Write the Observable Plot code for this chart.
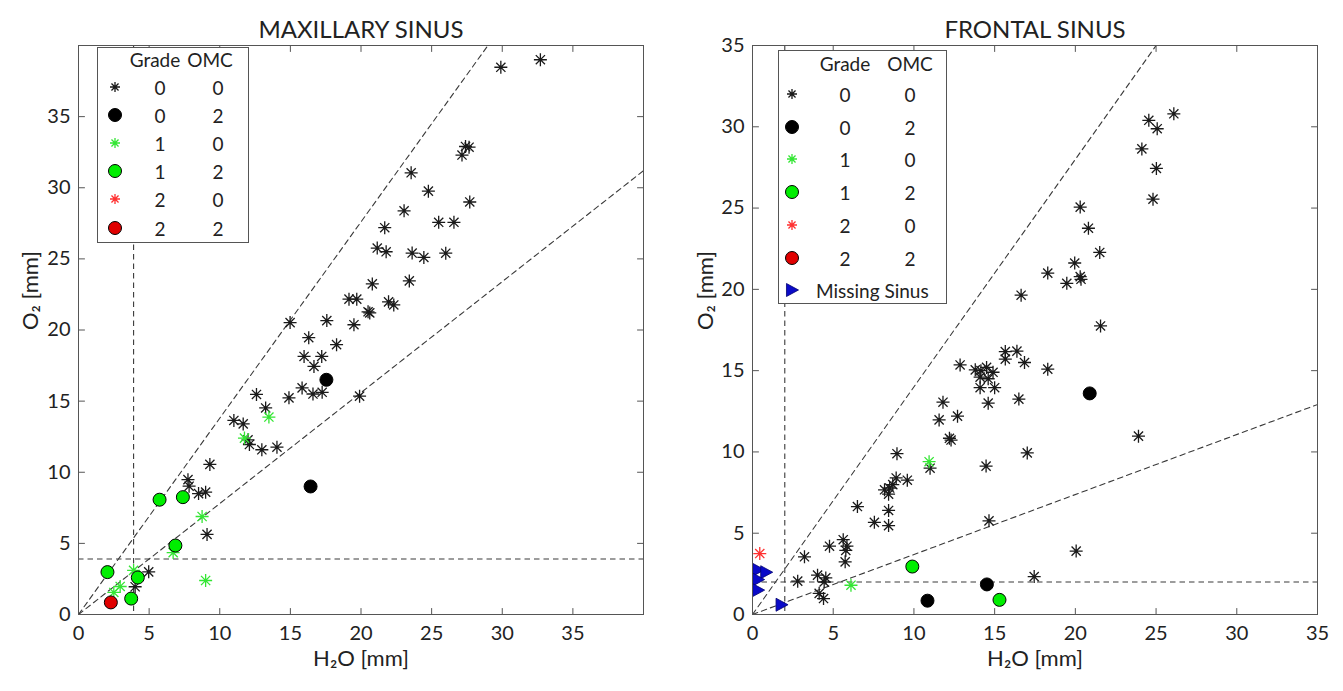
<!DOCTYPE html>
<html><head><meta charset="utf-8">
<script src="https://cdn.jsdelivr.net/npm/d3@7"></script>
<script src="https://cdn.jsdelivr.net/npm/@observablehq/plot@0.6"></script>
<style>
body{margin:0;background:#fff;}
#wrap{display:flex;width:1343px;height:691px;overflow:hidden;}
.panel{position:relative;height:691px;}
.panel svg.lg{position:absolute;}
</style></head><body><div id="wrap"></div>
<script>
// ---------- DATA ----------
const titles = ["MAXILLARY SINUS", "FRONTAL SINUS"];
const xLabel = "H₂O [mm]";
const yLabel = "O₂ [mm]";
const maxTicks = [0, 5, 10, 15, 20, 25, 30, 35];
const froTicks = [0, 5, 10, 15, 20, 25, 30, 35];
const legendHeader = ["Grade", "OMC"];
const legendRows = [["0", "0"], ["0", "2"], ["1", "0"], ["1", "2"], ["2", "0"], ["2", "2"]];
const missingLabel = "Missing Sinus";

// threshold / reference lines  [horizontal, vertical, upper slope, lower slope]
const maxRef = [3.9, 3.9, 1.38, 0.78];
const froRef = [2.0, 2.0, 1.40, 0.369];

// Maxillary sinus
const maxG0O0 = [[29.9,38.47],[32.7,39.0],[27.4,32.9],[27.65,32.85],[27.15,32.3],[27.7,29.0],[23.55,31.05],[24.77,29.76],[23.05,28.38],[25.5,27.57],[26.58,27.57],[21.68,27.19],[21.15,25.76],[21.78,25.5],[23.62,25.41],[24.45,25.1],[26.0,25.4],[23.42,23.45],[20.8,23.24],[19.15,22.17],[19.7,22.17],[21.95,21.98],[22.32,21.76],[20.5,21.28],[20.62,21.2],[14.98,20.52],[17.58,20.66],[19.5,20.37],[16.3,19.46],[18.27,18.97],[15.97,18.14],[17.22,18.14],[16.67,17.44],[15.83,15.93],[16.6,15.5],[17.25,15.62],[14.9,15.23],[19.9,15.35],[12.6,15.47],[13.25,14.52],[11.0,13.64],[11.66,13.4],[12.0,12.28],[12.1,11.95],[12.98,11.58],[14.05,11.76],[9.3,10.55],[7.75,9.48],[7.83,9.02],[8.5,8.5],[9.0,8.6],[9.1,5.63],[4.97,3.0],[4.01,1.95]];
const maxG0O2 = [[16.43,9.0],[17.55,16.5]];
const maxG1O0 = [[2.5,1.55],[2.95,1.97],[3.9,3.1],[6.7,4.35],[8.75,6.89],[9.0,2.39],[11.75,12.4],[13.48,13.88]];
const maxG1O2 = [[2.05,2.98],[4.2,2.6],[3.73,1.12],[6.86,4.85],[5.74,8.07],[7.39,8.25]];
const maxG2O0 = [];
const maxG2O2 = [[2.29,0.85]];

// Frontal sinus
const froG0O0 = [[26.1,30.8],[24.55,30.4],[25.07,29.88],[24.12,28.64],[25.02,27.44],[24.81,25.55],[20.3,25.06],[20.81,23.76],[21.51,22.27],[18.29,21.0],[19.96,21.62],[19.47,20.37],[20.3,20.78],[20.35,20.62],[16.64,19.64],[21.56,17.75],[15.66,16.17],[16.38,16.2],[15.66,15.71],[16.85,15.5],[18.29,15.09],[12.86,15.35],[13.8,15.05],[14.15,15.0],[14.5,15.2],[14.9,14.9],[14.6,14.5],[14.1,14.6],[15.0,13.95],[14.1,13.95],[14.6,13.0],[16.5,13.25],[11.8,13.06],[11.56,11.97],[12.7,12.2],[12.2,10.84],[12.3,10.73],[23.91,10.97],[17.02,9.94],[14.47,9.13],[11.0,9.0],[8.95,9.89],[9.59,8.26],[8.9,8.4],[8.69,7.99],[8.18,7.67],[8.5,7.78],[8.43,7.4],[6.5,6.64],[8.43,6.4],[7.55,5.67],[8.43,5.47],[14.65,5.76],[20.05,3.9],[17.45,2.33],[4.77,4.2],[5.62,4.6],[5.78,3.94],[5.85,4.2],[5.74,3.24],[3.22,3.55],[2.8,2.05],[4.03,2.42],[4.54,2.25],[4.44,2.0],[4.13,1.3],[4.4,0.98]];
const froG0O2 = [[20.89,13.6],[14.52,1.85],[10.84,0.85]];
const froG1O0 = [[10.94,9.4],[6.1,1.8]];
const froG1O2 = [[9.9,2.95],[15.3,0.9]];
const froG2O0 = [[0.45,3.75]];
const froG2O2 = [];
const froMissing = [[0.35,2.75],[0.85,2.6],[0.35,2.15],[0.35,1.5],[1.8,0.6]];

// ---------- STYLE ----------
const FONT = "Lato";
const star8 = {draw(ctx, size){const r=Math.sqrt(size/Math.PI), d=r*Math.SQRT1_2;
  ctx.moveTo(-r,0);ctx.lineTo(r,0);ctx.moveTo(0,-r);ctx.lineTo(0,r);
  ctx.moveTo(-d,-d);ctx.lineTo(d,d);ctx.moveTo(-d,d);ctx.lineTo(d,-d);}};
const triRight = {draw(ctx, size){const r=Math.sqrt(size/Math.PI);
  ctx.moveTo(-r*0.85,-r);ctx.lineTo(r,0);ctx.lineTo(-r*0.85,r);ctx.closePath();}};
const circle = {draw(ctx, size){const r=Math.sqrt(size/Math.PI); ctx.moveTo(r,0); ctx.arc(0,0,r,0,2*Math.PI);}};
const tickShape = {draw(ctx, l){ctx.moveTo(0,0);ctx.lineTo(0,-l);}};

const S = {
  g0o0: {symbol: star8, r: 6.5, fill: "none", stroke: "#1a1a1a", strokeWidth: 1.3},
  g0o2: {symbol: circle, r: 6.5, fill: "#000", stroke: "#000", strokeWidth: 1},
  g1o0: {symbol: star8, r: 6.5, fill: "none", stroke: "#33e633", strokeWidth: 1.3},
  g1o2: {symbol: circle, r: 6.5, fill: "#00ee00", stroke: "#000", strokeWidth: 1},
  g2o0: {symbol: star8, r: 6.5, fill: "none", stroke: "#ff3030", strokeWidth: 1.3},
  g2o2: {symbol: circle, r: 6.5, fill: "#e00000", stroke: "#000", strokeWidth: 1},
  miss: {symbol: triRight, r: 6.5, fill: "#0a0ac8", stroke: "#000070", strokeWidth: 0.8}
};
const dash = {stroke: "#3a3a3a", strokeWidth: 1.1, strokeDasharray: "5.5,4"};
const keys = ["g0o0","g0o2","g1o0","g1o2","g2o0","g2o2"];

function panel(cfg) {
  const {width, marginLeft, marginRight, domain, ticks, ref, series, title, ylabDx} = cfg;
  const [lo, hi] = domain;
  const [hLine, vLine, s1, s2] = ref;
  const diag = [s1, s2].map(s => [{x: 0, y: 0}, {x: hi, y: hi * s}]);
  const tk = {stroke: "#555", strokeWidth: 1, length: 6, anchor: "start", shape: tickShape};
  const marks = [
    Plot.ruleY([hLine], dash),
    Plot.ruleX([vLine], dash),
    ...diag.map(d => Plot.line(d, {x: "x", y: "y", clip: true, ...dash})),
    ...series.map(([data, st]) => Plot.dot(data, {x: d => d[0], y: d => d[1], ...st})),
    Plot.frame({stroke: "#555", strokeWidth: 1}),
    Plot.vector(ticks, {x: d => d, y: lo, rotate: 0, ...tk}),
    Plot.vector(ticks, {x: d => d, y: hi, rotate: 180, ...tk}),
    Plot.vector(ticks, {x: lo, y: d => d, rotate: 90, ...tk}),
    Plot.vector(ticks, {x: hi, y: d => d, rotate: -90, ...tk}),
    Plot.axisX(ticks, {anchor: "bottom", tickSize: 0, tickPadding: 11, label: null, fill: "#222"}),
    Plot.axisY(ticks, {anchor: "left", tickSize: 0, tickPadding: 8, label: null, fill: "#222"}),
    Plot.text([title], {text: d => d, frameAnchor: "top", dy: -25, fontSize: 24, fill: "#222"}),
    Plot.text([xLabel], {text: d => d, frameAnchor: "bottom", dy: 51, fontSize: 22, fill: "#222"}),
    Plot.text([yLabel], {text: d => d, frameAnchor: "left", rotate: -90, dx: ylabDx, fontSize: 22, fill: "#222"})
  ];
  return Plot.plot({
    width, height: 691, marginLeft, marginRight, marginTop: 45, marginBottom: 77,
    x: {domain}, y: {domain},
    style: {fontFamily: FONT, fontSize: "20px", background: "#fff", color: "#222"},
    marks
  });
}

function legend(div, cfg) {
  const {left, top, width, height, headerY, hx, rowYs, mx, gx, ox, rows, missing, mlx} = cfg;
  const svg = d3.select(div).append("svg").attr("class", "lg")
    .attr("width", width + 2).attr("height", height + 2)
    .style("left", left + "px").style("top", top + "px")
    .style("font-family", FONT).style("font-size", "19px");
  svg.append("rect").attr("x", 0.5).attr("y", 0.5).attr("width", width).attr("height", height)
    .attr("fill", "#fff").attr("stroke", "#555");
  const txt = (x, y, s, anchor) => svg.append("text").attr("x", x).attr("y", y)
    .attr("text-anchor", anchor).attr("dominant-baseline", "central").attr("fill", "#222").text(s);
  txt(hx[0], headerY, legendHeader[0], "middle");
  txt(hx[1], headerY, legendHeader[1], "middle");
  const all = rows.map((r, i) => ({key: keys[i], a: r[0], b: r[1]}));
  if (missing) all.push({key: "miss", label: missing});
  all.forEach((r, i) => {
    const y = rowYs[i], st = S[r.key];
    const rr = st.symbol === star8 ? 5 : st.r;
    svg.append("path").attr("transform", `translate(${mx},${y})`)
      .attr("d", d3.symbol(st.symbol, Math.PI * rr * rr)())
      .attr("fill", st.fill).attr("stroke", st.stroke).attr("stroke-width", st.strokeWidth);
    if (r.label) {
      txt(mlx, y, r.label, "start");
    } else {
      txt(gx, y, r.a, "middle");
      txt(ox, y, r.b, "middle");
    }
  });
}

const wrap = document.getElementById("wrap");

const p1 = document.createElement("div"); p1.className = "panel"; p1.style.width = "672px";
p1.appendChild(panel({
  width: 672, marginLeft: 78, marginRight: 29, domain: [0, 40], ticks: maxTicks, ref: maxRef,
  title: titles[0], ylabDx: -48,
  series: [[maxG0O0, S.g0o0], [maxG0O2, S.g0o2], [maxG1O0, S.g1o0], [maxG1O2, S.g1o2], [maxG2O0, S.g2o0], [maxG2O2, S.g2o2]]
}));
wrap.appendChild(p1);
legend(p1, {left: 97, top: 47, width: 151, height: 195, headerY: 12, hx: [58, 113],
  rowYs: [40, 68, 96, 124, 152, 181], mx: 18, gx: 63, ox: 121, rows: legendRows});

const p2 = document.createElement("div"); p2.className = "panel"; p2.style.width = "671px";
p2.appendChild(panel({
  width: 671, marginLeft: 80, marginRight: 26, domain: [0, 35], ticks: froTicks, ref: froRef,
  title: titles[1], ylabDx: -47,
  series: [[froG0O0, S.g0o0], [froG0O2, S.g0o2], [froG1O0, S.g1o0], [froG1O2, S.g1o2], [froG2O0, S.g2o0], [froG2O2, S.g2o2], [froMissing, S.miss]]
}));
wrap.appendChild(p2);
legend(p2, {left: 106, top: 50, width: 168, height: 253, headerY: 13, hx: [67, 132],
  rowYs: [44, 77, 109, 142, 175, 208, 240], mx: 14, gx: 67, ox: 132, mlx: 38, rows: legendRows, missing: missingLabel});
</script></body></html>
